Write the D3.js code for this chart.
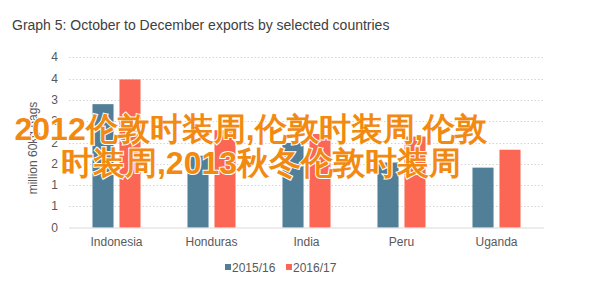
<!DOCTYPE html>
<html lang="en">
<head>
<meta charset="UTF-8">
<title>Graph 5</title>
<script src="https://d3js.org/d3.v7.min.js"></script>
<style>
  body { margin: 0; background: #fff; }
  text { font-family: "Liberation Sans", Arial, sans-serif; }
</style>
</head>
<body>
<svg id="chart" width="598" height="283"></svg>
<script>
  // data
  var countries = ["Indonesia", "Honduras", "India", "Peru", "Uganda"];
  var seasons = ["2015/16", "2016/17"];
  var exports1516 = [2.90, 1.69, 1.99, 1.53, 1.41];
  var exports1617 = [3.48, 2.29, 2.20, 2.14, 1.83];
  var yTicks = [0, 0.5, 1, 1.5, 2, 2.5, 3, 3.5, 4];
  var yTickLabels = ["0", "1", "1", "2", "2", "3", "3", "4", "4"];
  var overlayLines = ["2012伦敦时装周,伦敦时装周,伦敦", "时装周,2013秋冬伦敦时装周"];

  var colors = ["#527f98", "#fb6754"];

  var svg = d3.select("#chart");

  svg.append("rect").attr("width", 598).attr("height", 283).attr("fill", "#fff");

  // title
  svg.append("text")
    .attr("x", 12).attr("y", 30)
    .attr("font-size", 14)
    .attr("fill", "#404040")
    .text("Graph 5: October to December exports by selected countries");

  var x0 = d3.scaleBand().domain(countries).range([69, 544]);
  var x1 = d3.scaleBand().domain(seasons).range([0, x0.bandwidth()]).paddingInner(0.22).paddingOuter(0.87);
  var y = d3.scaleLinear().domain([0, 4]).range([227.7, 57.3]);

  // gridlines
  svg.append("g")
    .selectAll("line")
    .data(yTicks.slice(1))
    .enter().append("line")
      .attr("x1", 69).attr("x2", 544)
      .attr("y1", function(d) { return Math.round(y(d)) + 0.5; })
      .attr("y2", function(d) { return Math.round(y(d)) + 0.5; })
      .attr("stroke", "#d4d4d4")
      .attr("stroke-dasharray", "1.5,2");

  // y labels
  svg.append("g")
    .selectAll("text")
    .data(yTicks)
    .enter().append("text")
      .attr("x", 58)
      .attr("y", function(d) { return y(d) + 4; })
      .attr("text-anchor", "end")
      .attr("font-size", 12)
      .attr("fill", "#595959")
      .text(function(d, i) { return yTickLabels[i]; });

  // y title
  svg.append("text")
    .attr("transform", "translate(37," + 148 + ") rotate(-90)")
    .attr("text-anchor", "middle")
    .attr("font-size", 12)
    .attr("fill", "#595959")
    .text("million 60kg bags");

  // bars
  var rows = countries.map(function(c, i) {
    return { country: c, values: [exports1516[i], exports1617[i]] };
  });

  svg.append("g")
    .selectAll("g")
    .data(rows)
    .enter().append("g")
      .attr("transform", function(d) { return "translate(" + x0(d.country) + ",0)"; })
    .selectAll("rect")
    .data(function(d) { return d.values.map(function(v, j) { return { s: seasons[j], v: v, j: j }; }); })
    .enter().append("rect")
      .attr("x", function(d) { return x1(d.s); })
      .attr("width", x1.bandwidth())
      .attr("y", function(d) { return y(d.v); })
      .attr("height", function(d) { return y(0) - y(d.v); })
      .attr("fill", function(d) { return colors[d.j]; });

  // baseline
  svg.append("line")
    .attr("x1", 69).attr("x2", 544)
    .attr("y1", 228).attr("y2", 228)
    .attr("stroke", "#d9d9d9");

  // x labels
  svg.append("g")
    .selectAll("text")
    .data(countries)
    .enter().append("text")
      .attr("x", function(d) { return x0(d) + x0.bandwidth() / 2; })
      .attr("y", 246)
      .attr("text-anchor", "middle")
      .attr("font-size", 12)
      .attr("fill", "#595959")
      .text(function(d) { return d; });

  // legend
  var legendX = [225, 286];
  var legend = svg.append("g")
    .selectAll("g")
    .data(seasons)
    .enter().append("g")
      .attr("transform", function(d, i) { return "translate(" + legendX[i] + ",264)"; });
  legend.append("rect")
    .attr("width", 6).attr("height", 6)
    .attr("fill", function(d, i) { return colors[i]; });
  legend.append("text")
    .attr("x", 7).attr("y", 7.5)
    .attr("font-size", 12)
    .attr("fill", "#595959")
    .text(function(d) { return d; });

  // overlay watermark text
  svg.append("g")
    .selectAll("text")
    .data(overlayLines)
    .enter().append("text")
      .attr("x", function(d, i) { return i === 0 ? 251 : 261; })
      .attr("y", function(d, i) { return 140 + i * 34; })
      .attr("text-anchor", "middle")
      .attr("font-family", "'Noto Sans CJK SC', sans-serif")
      .attr("font-weight", "bold")
      .attr("font-size", 32)
      .attr("fill", "#f28a11")
      .attr("stroke", "#fff")
      .attr("stroke-width", 2)
      .attr("paint-order", "stroke")
      .text(function(d) { return d; });
</script>
</body>
</html>
